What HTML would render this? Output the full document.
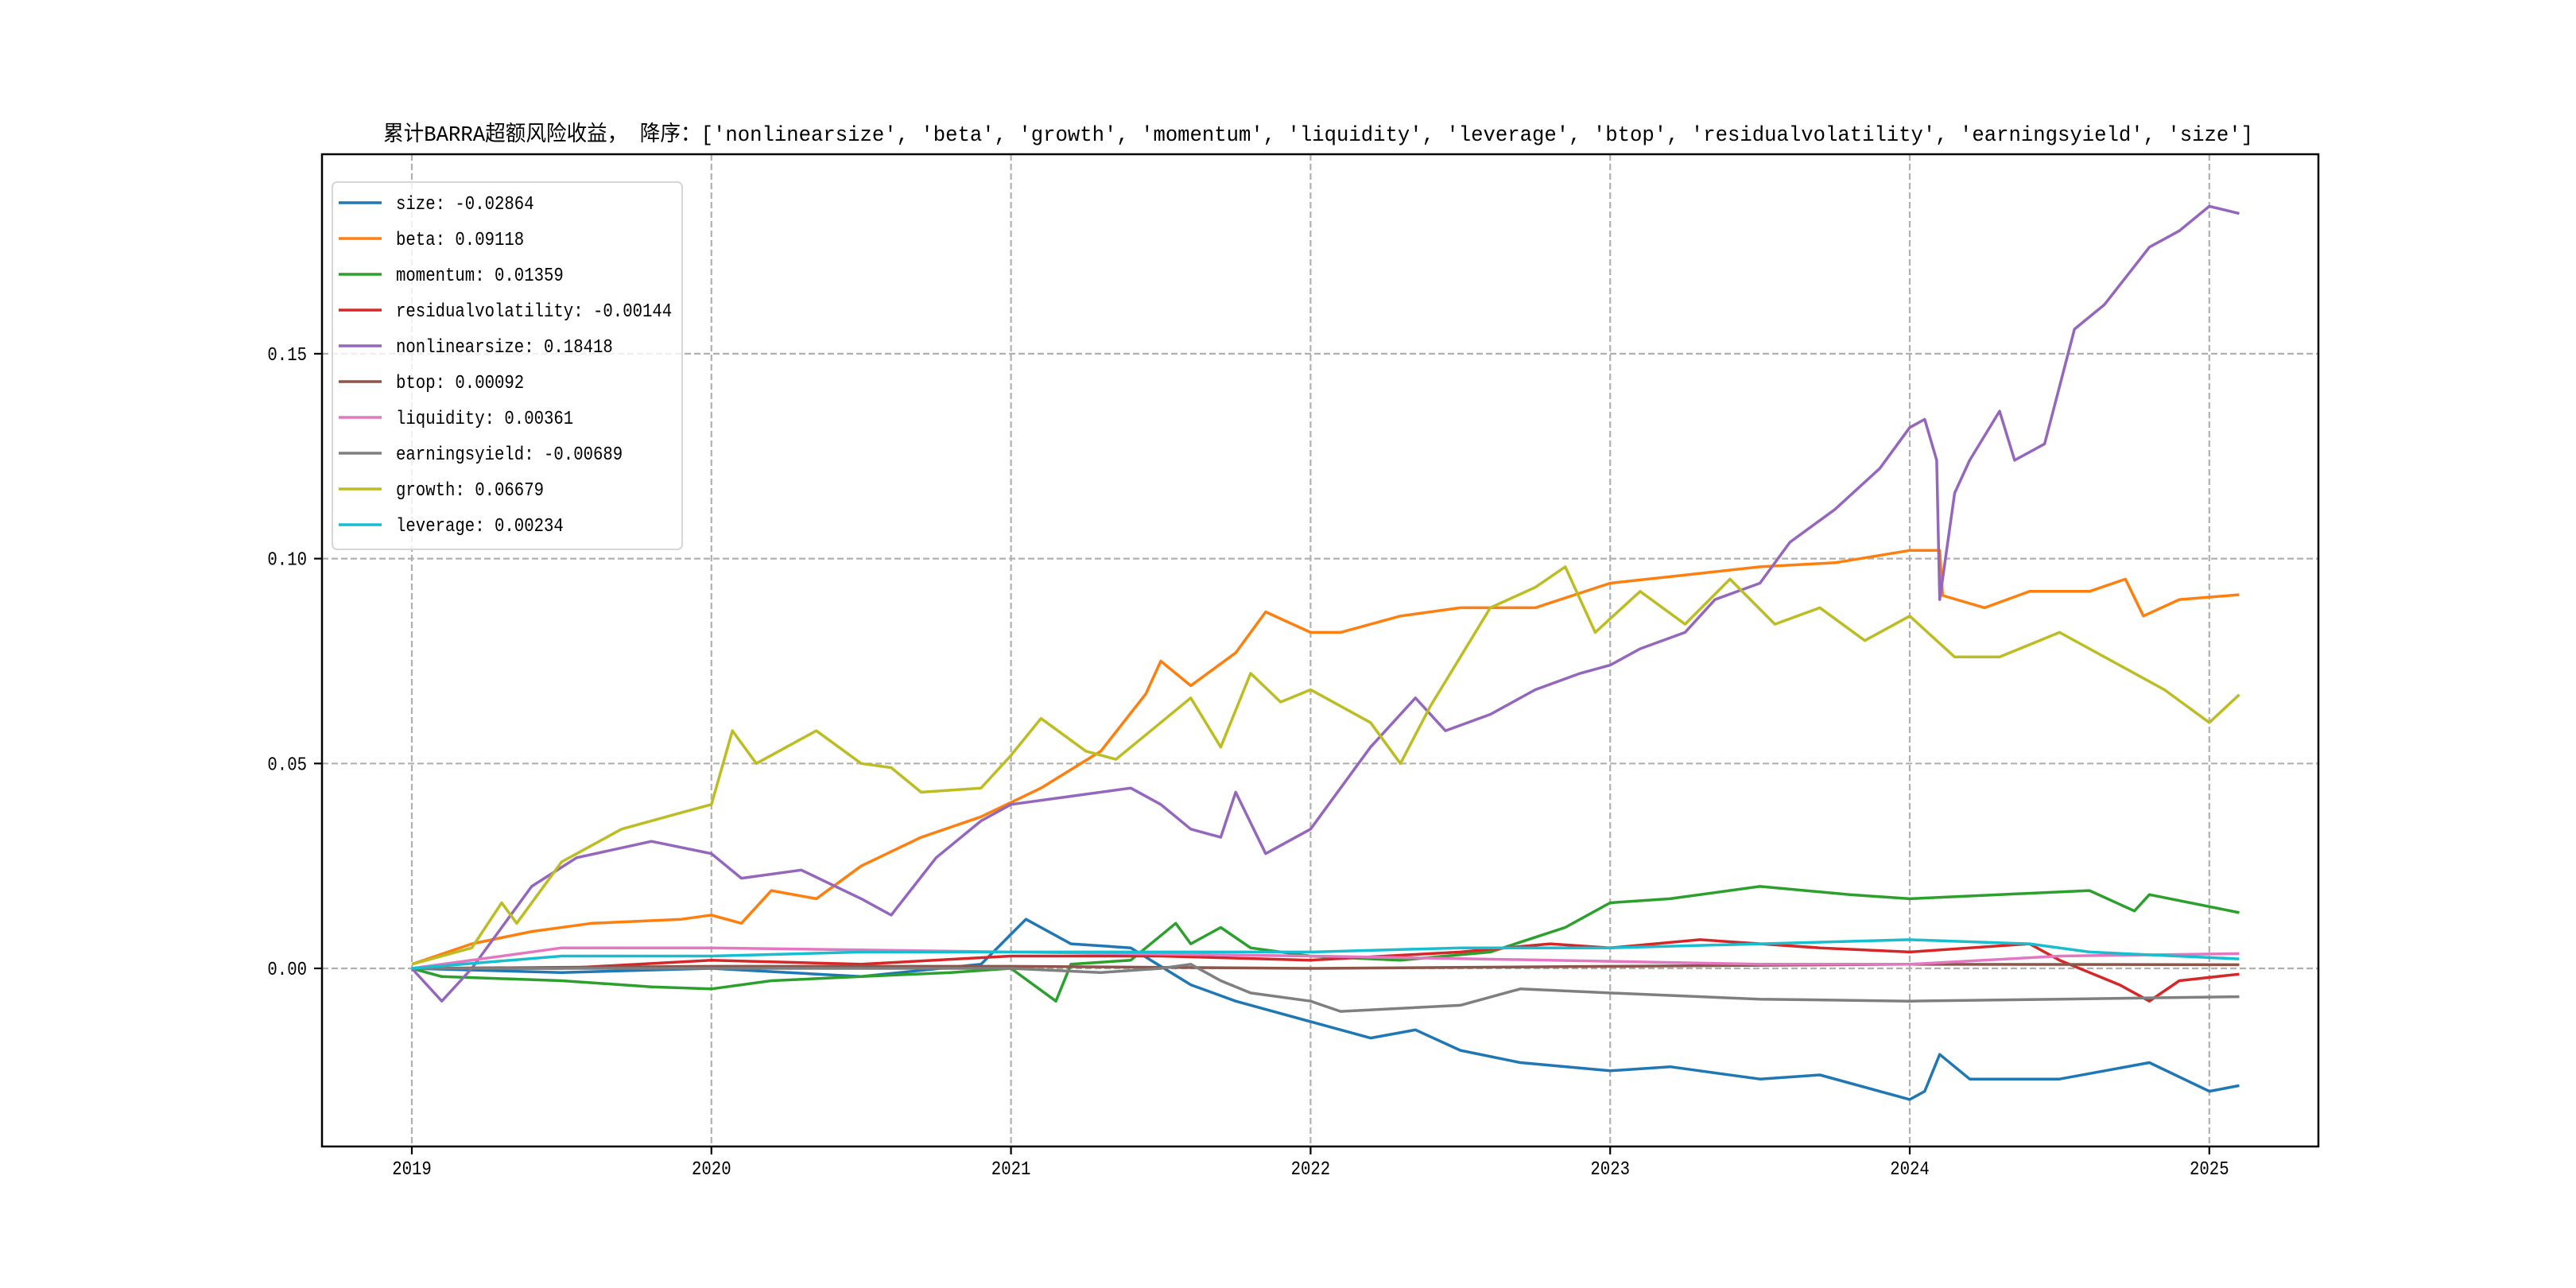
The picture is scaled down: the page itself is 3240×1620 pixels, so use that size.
<!DOCTYPE html>
<html><head><meta charset="utf-8">
<style>
html,body{margin:0;padding:0;background:#fff;}
svg{display:block;font-family:"Liberation Mono","WenQuanYi Zen Hei","Noto Sans CJK SC",monospace;}
</style></head>
<body>
<svg id="chart" width="3240" height="1620" viewBox="0 0 3240 1620" xmlns="http://www.w3.org/2000/svg">
<rect width="3240" height="1620" fill="#fff"/>
<g id="grid"></g>
<g id="series"></g>
<rect x="405" y="194" width="2511" height="1248" fill="none" stroke="#000" stroke-width="2.5"/>
<g id="ticks"></g>
<text x="482" y="177" font-size="27" textLength="2352" lengthAdjust="spacingAndGlyphs" font-family="'Liberation Mono','WenQuanYi Zen Hei','Noto Sans CJK SC',monospace">累计BARRA超额风险收益， 降序：['nonlinearsize', 'beta', 'growth', 'momentum', 'liquidity', 'leverage', 'btop', 'residualvolatility', 'earningsyield', 'size']</text>
<g id="legend"></g>
</svg>
<script>
const xTicks = [2019,2020,2021,2022,2023,2024,2025];
const yTicks = [0.00,0.05,0.10,0.15];
const yTickLabels = ["0.00","0.05","0.10","0.15"];
const seriesNames = ["size","beta","momentum","residualvolatility","nonlinearsize","btop","liquidity","earningsyield","growth","leverage"];
const finalValues = ["-0.02864","0.09118","0.01359","-0.00144","0.18418","0.00092","0.00361","-0.00689","0.06679","0.00234"];
const colors = ["#1f77b4","#ff7f0e","#2ca02c","#d62728","#9467bd","#8c564b","#e377c2","#7f7f7f","#bcbd22","#17becf"];

const sizeT = [2019,2019.5,2020,2020.5,2020.9,2021.05,2021.2,2021.4,2021.6,2021.75,2022.0,2022.2,2022.35,2022.5,2022.7,2023.0,2023.2,2023.5,2023.7,2024.0,2024.05,2024.1,2024.2,2024.5,2024.8,2025.0,2025.1];
const sizeV = [0,-0.001,0.0,-0.002,0.001,0.012,0.006,0.005,-0.004,-0.008,-0.013,-0.017,-0.015,-0.02,-0.023,-0.025,-0.024,-0.027,-0.026,-0.032,-0.03,-0.021,-0.027,-0.027,-0.023,-0.03,-0.0286];
const betaT = [2019,2019.2,2019.4,2019.6,2019.9,2020.0,2020.1,2020.2,2020.35,2020.5,2020.7,2020.9,2021.1,2021.3,2021.45,2021.5,2021.6,2021.75,2021.85,2022.0,2022.1,2022.3,2022.5,2022.75,2023.0,2023.25,2023.5,2023.75,2024.0,2024.1,2024.11,2024.25,2024.4,2024.6,2024.72,2024.78,2024.9,2025.1];
const betaV = [0.001,0.006,0.009,0.011,0.012,0.013,0.011,0.019,0.017,0.025,0.032,0.037,0.044,0.053,0.067,0.075,0.069,0.077,0.087,0.082,0.082,0.086,0.088,0.088,0.094,0.096,0.098,0.099,0.102,0.102,0.091,0.088,0.092,0.092,0.095,0.086,0.09,0.0912];
const momT = [2019,2019.1,2019.5,2019.8,2020,2020.2,2020.5,2020.8,2021.0,2021.15,2021.2,2021.4,2021.55,2021.6,2021.7,2021.8,2022,2022.3,2022.6,2022.85,2023.0,2023.2,2023.5,2023.8,2024,2024.3,2024.6,2024.75,2024.8,2025.1];
const momV = [0,-0.002,-0.003,-0.0045,-0.005,-0.003,-0.002,-0.001,0.0,-0.008,0.001,0.002,0.011,0.006,0.01,0.005,0.003,0.002,0.004,0.01,0.016,0.017,0.02,0.018,0.017,0.018,0.019,0.014,0.018,0.0136];
const resT = [2019,2019.5,2020,2020.5,2021,2021.5,2022,2022.5,2022.8,2023,2023.3,2023.7,2024,2024.4,2024.5,2024.7,2024.8,2024.9,2025.1];
const resV = [0,0.0,0.002,0.001,0.003,0.003,0.002,0.004,0.006,0.005,0.007,0.005,0.004,0.006,0.002,-0.004,-0.008,-0.003,-0.0014];
const nlT = [2019,2019.1,2019.2,2019.4,2019.55,2019.8,2020.0,2020.1,2020.3,2020.5,2020.6,2020.75,2020.9,2021.0,2021.2,2021.4,2021.5,2021.6,2021.7,2021.75,2021.85,2022.0,2022.1,2022.2,2022.35,2022.45,2022.6,2022.75,2022.9,2023.0,2023.1,2023.25,2023.35,2023.5,2023.6,2023.75,2023.9,2024.0,2024.05,2024.09,2024.1,2024.15,2024.2,2024.3,2024.35,2024.45,2024.55,2024.65,2024.8,2024.9,2025.0,2025.1];
const nlV = [0,-0.008,0.0,0.02,0.027,0.031,0.028,0.022,0.024,0.017,0.013,0.027,0.036,0.04,0.042,0.044,0.04,0.034,0.032,0.043,0.028,0.034,0.044,0.054,0.066,0.058,0.062,0.068,0.072,0.074,0.078,0.082,0.09,0.094,0.104,0.112,0.122,0.132,0.134,0.124,0.09,0.116,0.124,0.136,0.124,0.128,0.156,0.162,0.176,0.18,0.186,0.1842];
const btopT = [2019,2020,2021,2022,2023,2024,2025.1];
const btopV = [0,0.0005,0.0005,0.0,0.0005,0.001,0.0009];
const liqT = [2019,2019.5,2020,2021,2022,2022.8,2023.5,2024,2024.5,2025.1];
const liqV = [0,0.005,0.005,0.004,0.003,0.002,0.001,0.001,0.003,0.0036];
const eyT = [2019,2020,2021,2021.3,2021.5,2021.6,2021.7,2021.8,2022,2022.1,2022.5,2022.7,2023,2023.5,2024,2024.5,2025.1];
const eyV = [0,0.0,0.0,-0.001,0.0,0.001,-0.003,-0.006,-0.008,-0.0105,-0.009,-0.005,-0.006,-0.0075,-0.008,-0.0075,-0.0069];
const growT = [2019,2019.2,2019.3,2019.35,2019.5,2019.7,2019.9,2020.0,2020.07,2020.15,2020.35,2020.5,2020.6,2020.7,2020.9,2021.0,2021.1,2021.25,2021.35,2021.5,2021.6,2021.7,2021.8,2021.9,2022.0,2022.2,2022.3,2022.4,2022.5,2022.6,2022.75,2022.85,2022.95,2023.1,2023.25,2023.4,2023.55,2023.7,2023.85,2024.0,2024.15,2024.3,2024.5,2024.7,2024.85,2025.0,2025.1];
const growV = [0.001,0.005,0.016,0.011,0.026,0.034,0.038,0.040,0.058,0.05,0.058,0.05,0.049,0.043,0.044,0.052,0.061,0.053,0.051,0.06,0.066,0.054,0.072,0.065,0.068,0.06,0.05,0.064,0.076,0.088,0.093,0.098,0.082,0.092,0.084,0.095,0.084,0.088,0.08,0.086,0.076,0.076,0.082,0.074,0.068,0.06,0.0668];
const levT = [2019,2019.5,2020,2020.5,2021,2021.5,2022,2022.5,2023,2023.5,2024,2024.4,2024.6,2025.1];
const levV = [0,0.003,0.003,0.004,0.004,0.004,0.004,0.005,0.005,0.006,0.007,0.006,0.004,0.0023];

const seriesT = [sizeT,betaT,momT,resT,nlT,btopT,liqT,eyT,growT,levT];
const seriesV = [sizeV,betaV,momV,resV,nlV,btopV,liqV,eyV,growV,levV];

const NS = "http://www.w3.org/2000/svg";
const X0 = 518, PXYEAR = 376.8, Y0 = 1218, PXUNIT = 5154, CH = 12.4;
function xs(t){ return X0 + (t-2019)*PXYEAR; }
function ys(v){ return Y0 - v*PXUNIT; }
function mk(tag, attrs, parent){ const e=document.createElementNS(NS,tag); for(const k in attrs) e.setAttribute(k,attrs[k]); parent.appendChild(e); return e; }

const grid=document.getElementById('grid'), ticks=document.getElementById('ticks'), ser=document.getElementById('series'), leg=document.getElementById('legend');

xTicks.forEach((t,i)=>{
  const gl=mk('line',{x1:xs(t),x2:xs(t),y1:194,y2:1442,stroke:'#b0b0b0','stroke-width':2.2,'stroke-dasharray':'8,4'},grid);
  
  
  const tk=mk('line',{x1:xs(t),x2:xs(t),y1:1442,y2:1452,stroke:'#000','stroke-width':2.2},ticks);
  
  
  const s=String(t);
  const tl=mk('text',{x:xs(t),y:1477,'text-anchor':'middle','font-size':24,textLength:s.length*CH,lengthAdjust:'spacingAndGlyphs'},ticks);
  tl.textContent=s;
  
  
});
yTicks.forEach((v,i)=>{
  const gl=mk('line',{x1:405,x2:2916,y1:ys(v),y2:ys(v),stroke:'#b0b0b0','stroke-width':2.2,'stroke-dasharray':'8,4'},grid);
  
  
  const tk=mk('line',{x1:395,x2:405,y1:ys(v),y2:ys(v),stroke:'#000','stroke-width':2.2},ticks);
  
  
  const s=yTickLabels[i];
  const tl=mk('text',{x:386,y:ys(v)+8,'text-anchor':'end','font-size':24,textLength:s.length*CH,lengthAdjust:'spacingAndGlyphs'},ticks);
  tl.textContent=s;
  
  
});
seriesNames.forEach((n,i)=>{
  const pts=seriesT[i].map((t,j)=>xs(t).toFixed(1)+','+ys(seriesV[i][j]).toFixed(1)).join(' ');
  const pl=mk('polyline',{points:pts,fill:'none',stroke:colors[i],'stroke-width':3.5,'stroke-linejoin':'round'},ser);
  
  
});
const box=mk('rect',{x:418,y:229,width:440,height:462,rx:6,fill:'#fff','fill-opacity':0.8,stroke:'#d6d6d6','stroke-width':2},leg);


seriesNames.forEach((n,i)=>{
  const y=255+i*45;
  const l=mk('line',{x1:426,x2:480,y1:y,y2:y,stroke:colors[i],'stroke-width':3.5},leg);
  
  
  const s=n+': '+finalValues[i];
  const t=mk('text',{x:498,y:y+8,'font-size':24,textLength:s.length*CH,lengthAdjust:'spacingAndGlyphs'},leg);
  t.textContent=s;
  
  
});
</script>
</body></html>
